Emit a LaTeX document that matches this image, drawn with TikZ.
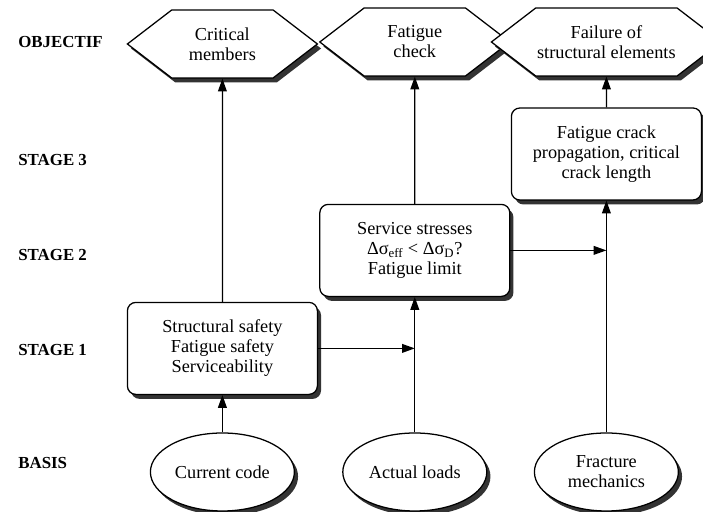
\documentclass[tikz,border=0pt]{standalone}
\usepackage{fontspec}
\setmainfont{Liberation Serif}
\usetikzlibrary{arrows.meta}
\usetikzlibrary{shapes.geometric}
\usetikzlibrary{shapes.symbols}
\usetikzlibrary{shadows}

\tikzset{
  rowlabel/.style={anchor=west,font=\fontsize{12}{14}\selectfont\bfseries},
  darkshadow/.style={drop shadow={shadow xshift=2.6pt,shadow yshift=-3.2pt,fill=black!80,opacity=1}},
  goal/.style={shape=signal,signal to=east and west,signal pointer angle=75,draw,fill=white,
    align=center,minimum width=4.75cm,minimum height=1.7cm,inner sep=1pt,darkshadow},
  stagebox/.style={rectangle,rounded corners=6pt,draw,fill=white,align=center,
    minimum width=4.75cm,minimum height=2.3cm,darkshadow},
  basis/.style={ellipse,draw,fill=white,align=center,minimum width=3.6cm,minimum height=1.95cm,
    inner sep=1pt,darkshadow}
}

\begin{document}
\begin{tikzpicture}[>={Triangle[length=3.2mm,width=2.2mm]},line width=0.9pt,
  font=\fontsize{13}{14.2}\selectfont]

  \useasboundingbox (0,0) rectangle (17.575,12.8);

  % row names
  \foreach \lab/\y [count=\i] in {OBJECTIF/11.75,STAGE 3/8.8,STAGE 2/6.425,STAGE 1/4.05,BASIS/1.225}
    \node [rowlabel] (row\i) at (0.325,\y) {\lab};

  \node [goal] (crit) at (5.56,11.7) {Critical\\members};
  \node [goal] (check) at (10.37,11.75) {Fatigue\\check};
  \node [goal] (fail) at (15.16,11.75) {Failure of\\structural elements};

  \node [stagebox] (s3) at (15.16,8.95) {Fatigue crack\\propagation, critical\\crack length};
  \node [stagebox] (s2) at (10.37,6.54) {Service stresses\\Δσ\textsubscript{eff} < Δσ\textsubscript{D}?\\Fatigue limit};
  \node [stagebox] (s1) at (5.56,4.09) {Structural safety\\Fatigue safety\\Serviceability};

  \node [basis] (code) at (5.56,1.0) {Current code};
  \node [basis] (loads) at (10.37,1.0) {Actual loads};
  \node [basis] (frac) at (15.16,1.0) {Fracture\\mechanics};

  \draw [->] (code) -- (s1);
  \draw [->] (s1) -- (crit);
  \draw [->] (loads) -- (s2);
  \draw [->] (s1.east) -- (s1.east -| s2.south);
  \draw [->] (s2) -- (check);
  \draw [->] (frac) -- (s3);
  \draw [->] (s2.east) -- (s2.east -| s3.south);
  \draw [->] (s3) -- (fail);

\end{tikzpicture}
\end{document}
